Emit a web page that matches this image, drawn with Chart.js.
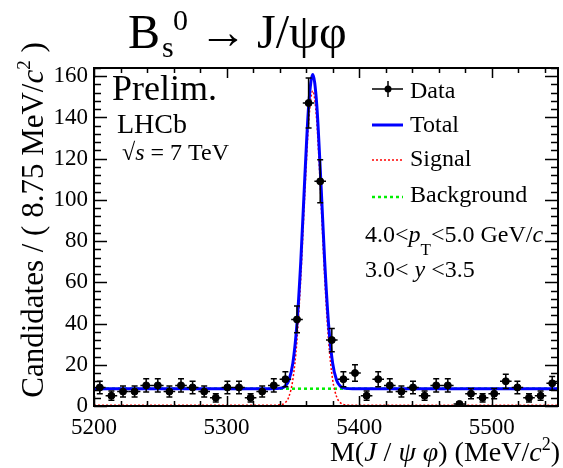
<!DOCTYPE html>
<html lang="en">
<head>
<meta charset="UTF-8">
<title>Bs0 to J/psi phi mass fit</title>
<script src="https://cdn.jsdelivr.net/npm/chart.js@4.4.1/dist/chart.umd.min.js"></script>
<style>
  html, body { margin: 0; padding: 0; background: #fff; }
  #wrap { width: 563px; height: 468px; }
</style>
</head>
<body>
<div id="wrap"><canvas id="massChart" width="563" height="468"></canvas></div>
<script>
// histogram: 40 bins of 8.75 MeV from 5200
const binStart = 5200;
const binWidth = 8.75;
const counts = [9, 5, 7, 7, 10, 10, 7, 10, 9, 7, 4, 9, 9, 4, 7, 10, 13, 42, 147, 109,
                32, 13, 16, 5, 13, 10, 7, 9, 5, 10, 10, 1, 6, 4, 6, 12, 9, 4, 5, 11];

// fit curves
const curveMass  = [5200, 5335, 5340, 5344, 5347, 5350, 5353, 5356, 5359, 5362, 5365,
                    5368, 5371, 5374, 5377, 5380, 5383, 5386, 5390, 5395, 5550];
const signalVals = [0.4, 0.4, 0.55, 1.5, 4.5, 12.8, 31.1, 62.3, 102.6, 138.4, 152.9,
                    138.4, 102.6, 62.3, 31.1, 12.8, 4.5, 1.5, 0.55, 0.4, 0.4];
const totalVals  = [8.4, 8.4, 8.55, 9.5, 12.5, 20.8, 39.1, 70.3, 110.6, 146.4, 160.9,
                    146.4, 110.6, 70.3, 39.1, 20.8, 12.5, 9.5, 8.55, 8.4, 8.4];
const bkgMass = [5200, 5550];
const bkgVals = [8.4, 8.4];

const xTicks = [5200, 5300, 5400, 5500];
const yTicks = [0, 20, 40, 60, 80, 100, 120, 140, 160];

const FONT = '"Liberation Serif", serif';
Chart.defaults.font.family = FONT;
Chart.defaults.color = '#000';

const dataPts = counts.map((n, i) => ({ x: binStart + binWidth * (i + 0.5), y: n }));
const toPts = (xs, ys) => xs.map((x, i) => ({ x: x, y: ys[i] }));

function fnt(p) {
    return (p.it ? 'italic ' : '') + p.s + 'px ' + FONT;
}

// draws a run of text pieces (for sub/superscripts and italics)
function rich(ctx, x, y, parts, align) {
    let w = 0;
    parts.forEach(p => { ctx.font = fnt(p); w += ctx.measureText(p.t).width; });
    let cx = x;
    if (align === 'right') cx = x - w;
    if (align === 'center') cx = x - w / 2;
    parts.forEach(p => {
        ctx.font = fnt(p);
        ctx.fillText(p.t, cx, y + (p.dy || 0));
        cx += ctx.measureText(p.t).width;
    });
}

const decor = {
    id: 'decor',
    beforeDatasetDraw(chart, args) {
        if (args.index !== 0) return;
        // error bars for the data points
        const ctx = chart.ctx;
        const xs = chart.scales.x, ys = chart.scales.y;
        ctx.save();
        ctx.strokeStyle = '#000';
        ctx.lineWidth = 1.5;
        dataPts.forEach(p => {
            const px = xs.getPixelForValue(p.x);
            const e = Math.sqrt(p.y);
            const y1 = ys.getPixelForValue(p.y - e), y2 = ys.getPixelForValue(p.y + e);
            const x1 = xs.getPixelForValue(p.x - binWidth / 2), x2 = xs.getPixelForValue(p.x + binWidth / 2);
            const py = ys.getPixelForValue(p.y);
            ctx.beginPath();
            ctx.moveTo(px, y1); ctx.lineTo(px, y2);
            ctx.moveTo(px - 3, y1); ctx.lineTo(px + 3, y1);
            ctx.moveTo(px - 3, y2); ctx.lineTo(px + 3, y2);
            ctx.moveTo(x1, py); ctx.lineTo(x2, py);
            ctx.stroke();
        });
        ctx.restore();
    },
    afterDraw(chart) {
        const ctx = chart.ctx;
        const a = chart.chartArea;
        const xs = chart.scales.x, ys = chart.scales.y;
        ctx.save();
        ctx.strokeStyle = '#000';
        ctx.fillStyle = '#000';
        ctx.lineWidth = 1.5;
        // ticks on all four sides
        ctx.beginPath();
        for (let v = 5200; v <= 5550; v += 20) {
            const px = Math.round(xs.getPixelForValue(v)) + 0.5;
            const len = (v % 100 === 0) ? 10 : 5;
            ctx.moveTo(px, a.bottom); ctx.lineTo(px, a.bottom - len);
            ctx.moveTo(px, a.top); ctx.lineTo(px, a.top + len);
        }
        for (let v = 0; v <= 164; v += 4) {
            const py = Math.round(ys.getPixelForValue(v)) + 0.5;
            const len = (v % 20 === 0) ? 13 : 7;
            ctx.moveTo(a.left, py); ctx.lineTo(a.left + len, py);
            ctx.moveTo(a.right, py); ctx.lineTo(a.right - len, py);
        }
        ctx.stroke();
        ctx.lineWidth = 2;
        ctx.strokeRect(a.left, a.top, a.right - a.left, a.bottom - a.top);

        ctx.textBaseline = 'alphabetic';
        // title
        rich(ctx, 128, 48, [{ t: 'B', s: 48 }]);
        rich(ctx, 162, 57, [{ t: 's', s: 30 }]);
        rich(ctx, 173, 30, [{ t: '0', s: 30 }]);
        rich(ctx, 199, 48, [{ t: '\u2192', s: 48 }]);
        rich(ctx, 257, 48, [{ t: 'J/\u03C8\u03C6', s: 48 }]);

        // labels inside the frame
        rich(ctx, 112, 100, [{ t: 'Prelim.', s: 36 }]);
        rich(ctx, 117, 133, [{ t: 'LHCb', s: 28 }]);
        rich(ctx, 122, 160, [{ t: '\u221A', s: 24 }, { t: 's', s: 24, it: true }, { t: ' = 7 TeV', s: 24 }]);

        rich(ctx, 365, 242, [{ t: '4.0<', s: 24 }, { t: 'p', s: 24, it: true }, { t: 'T', s: 17, dy: 13 },
                             { t: '<5.0 GeV/', s: 24 }, { t: 'c', s: 24, it: true }]);
        rich(ctx, 365, 277, [{ t: '3.0< ', s: 24 }, { t: 'y', s: 24, it: true }, { t: ' <3.5', s: 24 }]);

        // legend
        const lx1 = 372, lx2 = 403, tx = 410;
        ctx.lineWidth = 1.5;
        ctx.beginPath();
        ctx.moveTo(lx1, 89); ctx.lineTo(lx2, 89);
        ctx.moveTo(388, 81); ctx.lineTo(388, 97);
        ctx.stroke();
        ctx.beginPath(); ctx.arc(388, 89, 3.5, 0, Math.PI * 2); ctx.fill();
        rich(ctx, tx, 98, [{ t: 'Data', s: 24 }]);

        ctx.strokeStyle = '#0000ff'; ctx.lineWidth = 3;
        ctx.beginPath(); ctx.moveTo(lx1, 125); ctx.lineTo(lx2, 125); ctx.stroke();
        rich(ctx, tx, 132, [{ t: 'Total', s: 24 }]);

        ctx.strokeStyle = '#ff0000'; ctx.lineWidth = 1.5; ctx.setLineDash([2, 2]);
        ctx.beginPath(); ctx.moveTo(lx1, 160); ctx.lineTo(lx2, 160); ctx.stroke();
        rich(ctx, tx, 166, [{ t: 'Signal', s: 24 }]);

        ctx.strokeStyle = '#00ee00'; ctx.lineWidth = 2.5; ctx.setLineDash([3, 3]);
        ctx.beginPath(); ctx.moveTo(lx1, 197); ctx.lineTo(lx2, 197); ctx.stroke();
        ctx.setLineDash([]);
        rich(ctx, tx, 202, [{ t: 'Background', s: 24 }]);

        // axis titles
        rich(ctx, 560, 461, [{ t: 'M(', s: 28 }, { t: 'J', s: 28, it: true }, { t: ' / ', s: 28 },
                             { t: '\u03C8', s: 28, it: true }, { t: ' ', s: 28 }, { t: '\u03C6', s: 28, it: true },
                             { t: ') (MeV/', s: 28 }, { t: 'c', s: 28, it: true }, { t: '2', s: 18, dy: -11 },
                             { t: ')', s: 28 }], 'right');
        ctx.save();
        ctx.translate(43, 220);
        ctx.rotate(-Math.PI / 2);
        rich(ctx, 0, 0, [{ t: 'Candidates / ( 8.75 MeV/', s: 31 }, { t: 'c', s: 31, it: true },
                         { t: '2', s: 19, dy: -13 }, { t: ' )', s: 31 }], 'center');
        ctx.restore();
        ctx.restore();
    }
};

const tickFont = { family: FONT, size: 23, style: 'normal', weight: 'normal' };

const ctx = document.getElementById('massChart').getContext('2d');
new Chart(ctx, {
    type: 'scatter',
    data: {
        datasets: [
            {
                label: 'Data',
                data: dataPts,
                pointRadius: 3.5,
                pointBackgroundColor: '#000',
                pointBorderColor: '#000',
                showLine: false
            },
            {
                label: 'Total',
                data: toPts(curveMass, totalVals),
                showLine: true,
                borderColor: '#0000ff',
                borderWidth: 3,
                pointRadius: 0,
                cubicInterpolationMode: 'monotone'
            },
            {
                label: 'Signal',
                data: toPts(curveMass, signalVals),
                showLine: true,
                borderColor: '#ff0000',
                borderWidth: 1.5,
                borderDash: [2, 2],
                pointRadius: 0,
                cubicInterpolationMode: 'monotone'
            },
            {
                label: 'Background',
                data: toPts(bkgMass, bkgVals),
                showLine: true,
                borderColor: '#00ee00',
                borderWidth: 2.5,
                borderDash: [3, 3],
                pointRadius: 0
            }
        ]
    },
    options: {
        responsive: false,
        animation: false,
        devicePixelRatio: 1,
        layout: { padding: { top: 68, right: 1, left: 0, bottom: 0 } },
        plugins: { legend: { display: false }, tooltip: { enabled: false } },
        scales: {
            x: {
                type: 'linear',
                min: 5200,
                max: 5550,
                afterBuildTicks: s => { s.ticks = xTicks.map(v => ({ value: v })); },
                afterFit: s => { s.height = 62; },
                grid: { display: false, drawTicks: false },
                border: { display: false },
                ticks: {
                    font: tickFont, color: '#000', padding: 8, maxRotation: 0,
                    callback: v => String(v)
                }
            },
            y: {
                min: 0,
                max: 164,
                afterBuildTicks: s => { s.ticks = yTicks.map(v => ({ value: v })); },
                afterFit: s => { s.width = 94; },
                grid: { display: false, drawTicks: false },
                border: { display: false },
                ticks: {
                    font: tickFont, color: '#000', padding: 6,
                    callback: v => String(v)
                }
            }
        }
    },
    plugins: [decor]
});
</script>
</body>
</html>
